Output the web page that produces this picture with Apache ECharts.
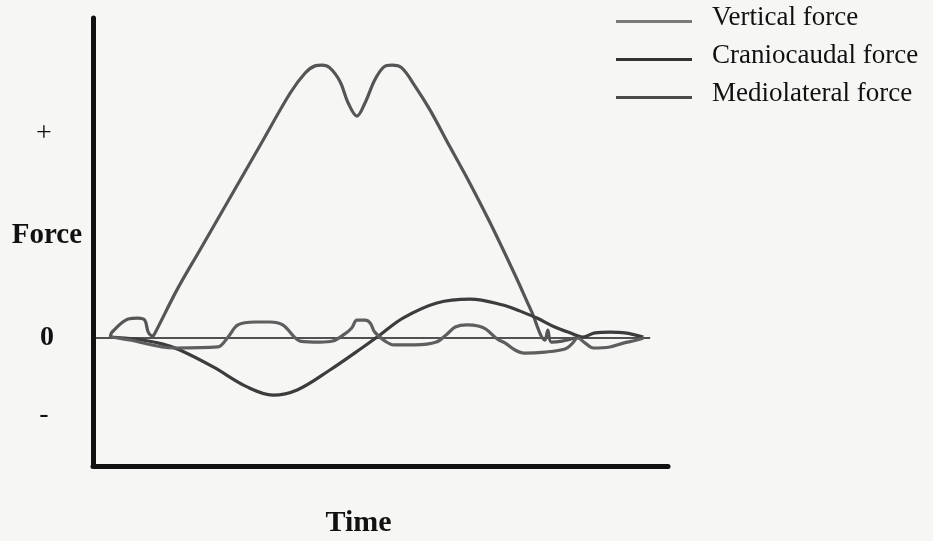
<!DOCTYPE html>
<html>
<head>
<meta charset="utf-8">
<title>Force vs Time</title>
<script src="https://cdn.jsdelivr.net/npm/echarts@6/dist/echarts.min.js"></script>
<style>
  html, body { margin: 0; padding: 0; background: #f6f6f5; }
  #chart { width: 933px; height: 541px; }
</style>
</head>
<body>
<div id="chart"></div>
<script>
// Ground reaction force traces over one stance phase (arbitrary units).
// Each point is [time (% of axis), force].
const seriesNames = ['Vertical force', 'Craniocaudal force', 'Mediolateral force'];

const verticalForce = [
  [3.0, 0.4], [3.3, 2.3], [6.1, 7.4], [7.8, 7.8], [9.0, 7.0], [9.6, 2.3],
  [10.4, 0.8], [10.8, 2.0], [14.6, 18.8], [18.6, 34.4], [23.8, 54.7],
  [29.0, 75.0], [34.3, 95.7], [36.9, 103.5], [38.6, 106.3], [39.8, 106.6],
  [41.2, 105.5], [43.0, 100.0], [44.3, 92.2], [45.9, 86.7], [47.3, 91.8],
  [49.0, 100.8], [50.6, 105.9], [52.0, 106.6], [53.7, 105.5], [56.0, 98.4],
  [58.6, 89.1], [62.1, 74.6], [65.6, 60.2], [69.0, 45.3], [73.4, 24.6],
  [76.3, 10.2], [78.6, -0.8], [79.1, 3.1], [79.7, -1.6], [81.6, -1.2], [83.8, 0]
];

const craniocaudalForce = [
  [3.0, 0.4], [7.3, -0.4], [12.0, -2.3], [15.1, -4.7], [20.9, -11.3],
  [26.8, -19.1], [31.3, -22.3], [35.5, -20.3], [41.2, -12.5], [47.0, -3.5],
  [49.9, 1.2], [53.9, 7.8], [59.8, 13.7], [65.6, 15.2], [71.3, 12.9],
  [74.3, 10.5], [77.2, 7.8], [80.3, 4.3], [83.0, 2.0], [85.2, 0.4],
  [87.3, 2.0], [89.9, 2.3], [92.5, 2.0], [95.7, 0.4]
];

const mediolateralForce = [
  [3.0, 0.4], [6.4, -0.8], [12.0, -3.5], [14.3, -3.9], [21.7, -3.5],
  [23.5, 0.4], [25.2, 5.1], [28.2, 6.25], [30.8, 6.25], [33.0, 5.1],
  [35.0, 0.4], [36.0, -1.2], [39.5, -1.6], [41.7, -1.2], [43.8, 1.6],
  [45.0, 3.9], [45.9, 7.0], [47.3, 7.0], [48.2, 5.9], [49.0, 2.3],
  [50.8, -1.2], [52.3, -2.7], [56.0, -2.7], [59.7, -1.6], [61.6, 1.6],
  [63.0, 4.3], [65.0, 5.1], [67.0, 4.7], [68.3, 3.5], [70.3, -0.4],
  [71.7, -2.0], [73.4, -4.7], [75.0, -5.9], [78.6, -5.5], [82.1, -4.3],
  [83.3, -2.3], [84.3, 0], [85.6, -2.0], [87.0, -3.9], [89.9, -3.5],
  [92.2, -2.0], [94.6, -0.8], [95.7, 0]
];

// Sign labels on the force axis
const forceTickValues = [80, 0, -30];
const forceTickLabels = { '80': '+', '0': '0', '-30': '-' };
const baselineEnd = 96.9;

const serif = '"Liberation Serif", "DejaVu Serif", serif';
const lineColors = ['#555555', '#3c3c3c', '#5e5e5e'];
const legendColors = ['#7a7a7a', '#333333', '#4a4a4a'];

const chart = echarts.init(document.getElementById('chart'), null, { renderer: 'canvas' });

function lineSeries(name, data, idx) {
  return {
    name: name,
    type: 'line',
    data: data,
    smooth: 0.35,
    showSymbol: false,
    symbol: 'none',
    color: legendColors[idx],
    lineStyle: { color: lineColors[idx], width: 3.2 },
    z: 3
  };
}

const series = [
  lineSeries(seriesNames[0], verticalForce, 0),
  lineSeries(seriesNames[1], craniocaudalForce, 1),
  lineSeries(seriesNames[2], mediolateralForce, 2)
];

// zero-force reference line
series[0].markLine = {
  silent: true,
  symbol: 'none',
  label: { show: false },
  lineStyle: { color: '#1a1a1a', width: 1.6, type: 'solid' },
  data: [[{ coord: [0, 0] }, { coord: [baselineEnd, 0] }]],
  z: 2
};

chart.setOption({
  animation: false,
  backgroundColor: '#f6f6f5',
  grid: {
    left: 93, right: 933 - 668, top: 18, bottom: 541 - 466,
    containLabel: false,
    outerBoundsMode: 'none'
  },
  legend: {
    orient: 'vertical',
    left: 611,
    top: -1,
    icon: 'rect',
    itemWidth: 76,
    itemHeight: 3,
    itemGap: 3,
    selectedMode: false,
    data: seriesNames,
    formatter: '{t|{name}}',
    textStyle: {
      fontFamily: serif,
      fontSize: 27,
      color: '#111',
      rich: {
        t: {
          fontFamily: serif,
          fontSize: 27,
          color: '#111',
          lineHeight: 27,
          padding: [0, 0, 8, 15]
        }
      }
    }
  },
  xAxis: {
    type: 'value',
    min: 0,
    max: 100,
    name: 'Time',
    nameLocation: 'middle',
    nameGap: 42,
    nameMoveOverlap: false,
    nameTextStyle: {
      fontFamily: serif, fontSize: 30, fontWeight: 'bold', color: '#111',
      padding: [0, 44, 0, 0]
    },
    axisLine: { show: true, onZero: false, lineStyle: { color: '#111', width: 5 } },
    axisTick: { show: false },
    axisLabel: { show: false },
    splitLine: { show: false }
  },
  yAxis: {
    type: 'value',
    min: -50,
    max: 125,
    name: '{f|Force}',
    nameLocation: 'middle',
    nameRotate: 0,
    nameGap: 11,
    nameMoveOverlap: false,
    nameTextStyle: {
      fontFamily: serif, fontSize: 29, fontWeight: 'bold', color: '#111',
      rich: {
        f: {
          fontFamily: serif, fontSize: 29, fontWeight: 'bold', color: '#111',
          lineHeight: 29,
          padding: [0, 0, 12, 0]
        }
      }
    },
    axisLine: { show: true, onZero: false, lineStyle: { color: '#111', width: 5 } },
    axisTick: { show: false },
    splitLine: { show: false },
    axisLabel: {
      show: true,
      customValues: forceTickValues,
      align: 'center',
      margin: 49,
      fontFamily: serif,
      fontSize: 28,
      color: '#111',
      formatter: function (v) {
        const key = String(v);
        if (key === '0') return '{b|0}';
        return '{s|' + (forceTickLabels[key] !== undefined ? forceTickLabels[key] : '') + '}';
      },
      rich: {
        b: { fontFamily: serif, fontSize: 28, fontWeight: 'bold', color: '#111', padding: [0, 0, 0, 6] },
        s: { fontFamily: serif, fontSize: 28, color: '#111' }
      }
    }
  },
  series: series
});
</script>
</body>
</html>
